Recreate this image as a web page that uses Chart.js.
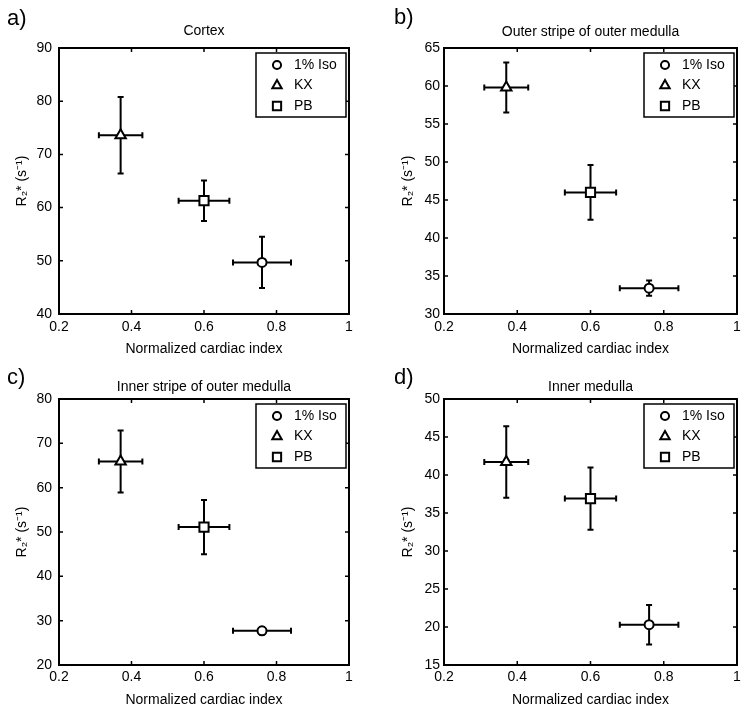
<!DOCTYPE html>
<html>
<head>
<meta charset="utf-8">
<script src="https://cdn.jsdelivr.net/npm/chart.js@4.4.1/dist/chart.umd.min.js"></script>
<style>
  body { margin: 0; background: #fff; }
  #figure { position: relative; width: 750px; height: 721px; font-family: 'Liberation Sans', Arial, sans-serif; }
  #figure canvas { position: absolute; }
  .letter { position: absolute; font-size: 22px; line-height: 22px; color: #000; }
</style>
</head>
<body>
<div id="figure">
  <canvas id="chart-a" width="375" height="360" style="left:0;top:0"></canvas>
  <canvas id="chart-b" width="375" height="360" style="left:375px;top:0"></canvas>
  <canvas id="chart-c" width="375" height="361" style="left:0;top:360px"></canvas>
  <canvas id="chart-d" width="375" height="361" style="left:375px;top:360px"></canvas>
  <div class="letter" style="left:7px;top:7px">a)</div>
  <div class="letter" style="left:394px;top:6px">b)</div>
  <div class="letter" style="left:7px;top:366px">c)</div>
  <div class="letter" style="left:394px;top:366px">d)</div>
</div>
<script>
// groups (same order in every panel)
const groups = ['1% Iso', 'KX', 'PB'];

// normalized cardiac index, mean and error
const cardiacIndex = [0.76, 0.37, 0.60];
const cardiacIndexErr = [0.08, 0.06, 0.07];

// R2* per region, mean and error
const cortexR2 = [49.7, 73.6, 61.3];
const cortexErr = [4.8, 7.2, 3.8];
const outerStripeR2 = [33.4, 59.8, 46.0];
const outerStripeErr = [1.0, 3.3, 3.6];
const innerStripeR2 = [27.7, 65.9, 51.1];
const innerStripeErr = [0.8, 7.0, 6.1];
const innerMedullaR2 = [20.3, 41.7, 36.9];
const innerMedullaErr = [2.6, 4.7, 4.1];

// tick labels
const xTicks = [0.2, 0.4, 0.6, 0.8, 1];
const cortexTicks = [40, 50, 60, 70, 80, 90];
const outerStripeTicks = [30, 35, 40, 45, 50, 55, 60, 65];
const innerStripeTicks = [20, 30, 40, 50, 60, 70, 80];
const innerMedullaTicks = [15, 20, 25, 30, 35, 40, 45, 50];

const xTitle = 'Normalized cardiac index';
const yTitle = 'R\u2082* (s\u207B\u00B9)';

// marker look
const markerStyles = ['circle', 'triangle', 'rect'];
const markerRadii = [4.5, 6, 6.5];

const FONT = "'Liberation Sans', Arial, sans-serif";
const FS = 14;
const LH = FS * 1.2;
const CAP = 3;
const TICK = 4;

Chart.defaults.font.family = FONT;
Chart.defaults.font.size = FS;
Chart.defaults.color = '#000';

const panels = [
  { id: 'chart-a', title: 'Cortex', values: cortexR2, errors: cortexErr, ticks: cortexTicks,
    box: { top: 48, bottom: 314, left: 59, right: 349, titleY: 31, xTitleY: 349, yTitleX: 22, yTickPad: 7, xTickPad: 5 } },
  { id: 'chart-b', title: 'Outer stripe of outer medulla', values: outerStripeR2, errors: outerStripeErr, ticks: outerStripeTicks,
    box: { top: 48, bottom: 314, left: 69, right: 362, titleY: 32, xTitleY: 349, yTitleX: 33, yTickPad: 4, xTickPad: 5 } },
  { id: 'chart-c', title: 'Inner stripe of outer medulla', values: innerStripeR2, errors: innerStripeErr, ticks: innerStripeTicks,
    box: { top: 39, bottom: 305, left: 59, right: 349, titleY: 27, xTitleY: 340, yTitleX: 22, yTickPad: 7, xTickPad: 4 } },
  { id: 'chart-d', title: 'Inner medulla', values: innerMedullaR2, errors: innerMedullaErr, ticks: innerMedullaTicks,
    box: { top: 39, bottom: 305, left: 69, right: 362, titleY: 27, xTitleY: 340, yTitleX: 33, yTickPad: 4, xTickPad: 4 } }
];

// x and y error bars, drawn under the markers
const errorBars = {
  id: 'errorBars',
  beforeDatasetsDraw(chart) {
    const { ctx, scales: { x, y } } = chart;
    ctx.save();
    ctx.strokeStyle = '#000';
    ctx.lineWidth = 2;
    chart.data.datasets.forEach(ds => ds.data.forEach(d => {
      const px = x.getPixelForValue(d.x), py = y.getPixelForValue(d.y);
      const x0 = x.getPixelForValue(d.x - d.xErr), x1 = x.getPixelForValue(d.x + d.xErr);
      const y0 = y.getPixelForValue(d.y - d.yErr), y1 = y.getPixelForValue(d.y + d.yErr);
      ctx.beginPath();
      ctx.moveTo(x0, py); ctx.lineTo(x1, py);
      ctx.moveTo(px, y0); ctx.lineTo(px, y1);
      ctx.moveTo(x0, py - CAP); ctx.lineTo(x0, py + CAP);
      ctx.moveTo(x1, py - CAP); ctx.lineTo(x1, py + CAP);
      ctx.moveTo(px - CAP, y0); ctx.lineTo(px + CAP, y0);
      ctx.moveTo(px - CAP, y1); ctx.lineTo(px + CAP, y1);
      ctx.stroke();
    }));
    ctx.restore();
  }
};

// box round the plot with inward ticks on all four sides
const frame = {
  id: 'frame',
  afterDraw(chart) {
    const { ctx, chartArea: a, scales: { x, y } } = chart;
    ctx.save();
    ctx.strokeStyle = '#000';
    ctx.lineWidth = 1.5;
    ctx.beginPath();
    x.ticks.forEach(t => {
      const px = x.getPixelForValue(t.value);
      ctx.moveTo(px, a.bottom); ctx.lineTo(px, a.bottom - TICK);
      ctx.moveTo(px, a.top); ctx.lineTo(px, a.top + TICK);
    });
    y.ticks.forEach(t => {
      const py = y.getPixelForValue(t.value);
      ctx.moveTo(a.left, py); ctx.lineTo(a.left + TICK, py);
      ctx.moveTo(a.right, py); ctx.lineTo(a.right - TICK, py);
    });
    ctx.stroke();
    ctx.lineWidth = 2;
    ctx.strokeRect(a.left, a.top, a.right - a.left, a.bottom - a.top);
    ctx.restore();
  }
};

// legend box in the top right corner of the plot
const boxLegend = {
  id: 'boxLegend',
  afterDraw(chart) {
    const { ctx, chartArea: a } = chart;
    const w = 90, h = 64;
    const left = a.right - 3 - w, top = a.top + 5;
    ctx.save();
    ctx.fillStyle = '#fff';
    ctx.fillRect(left, top, w, h);
    ctx.strokeStyle = '#000';
    ctx.lineWidth = 1.5;
    ctx.strokeRect(left, top, w, h);
    chart.data.datasets.forEach((ds, i) => {
      const cy = top + 12 + i * 20.5;
      ctx.fillStyle = '#fff';
      ctx.strokeStyle = '#000';
      ctx.lineWidth = 2;
      Chart.helpers.drawPoint(ctx, { pointStyle: ds.pointStyle, radius: ds.pointRadius * 0.9, rotation: 0, borderWidth: 2 }, left + 21, cy);
      ctx.fillStyle = '#000';
      ctx.font = FS + 'px ' + FONT;
      ctx.textBaseline = 'middle';
      ctx.textAlign = 'left';
      ctx.fillText(ds.label, left + 38, cy);
    });
    ctx.restore();
  }
};

function makeChart(p) {
  const canvas = document.getElementById(p.id);
  const W = canvas.width, H = canvas.height;
  const b = p.box;
  const padTop = b.titleY - LH / 2;

  const datasets = groups.map((g, i) => ({
    label: g,
    data: [{ x: cardiacIndex[i], y: p.values[i], xErr: cardiacIndexErr[i], yErr: p.errors[i] }],
    pointStyle: markerStyles[i],
    pointRadius: markerRadii[i],
    pointBackgroundColor: '#fff',
    pointBorderColor: '#000',
    pointBorderWidth: 2
  }));

  new Chart(canvas, {
    type: 'scatter',
    data: { datasets },
    options: {
      responsive: false,
      animation: false,
      events: [],
      layout: { padding: { top: padTop, left: 0, right: W - b.right, bottom: 0 } },
      plugins: {
        legend: { display: false },
        tooltip: { enabled: false },
        title: {
          display: true, text: p.title, fullSize: false, color: '#000',
          font: { size: FS, weight: 'normal' },
          padding: { top: 0, bottom: b.top - padTop - LH }
        }
      },
      scales: {
        x: {
          type: 'linear', position: 'bottom',
          min: xTicks[0], max: xTicks[xTicks.length - 1],
          afterBuildTicks: s => { s.ticks = xTicks.map(v => ({ value: v })); },
          afterFit: s => { s.height = H - b.bottom; },
          grid: { display: false, drawTicks: false },
          border: { display: false },
          ticks: { padding: b.xTickPad, autoSkip: false, maxRotation: 0, callback: v => String(v) },
          title: { display: true, text: xTitle, padding: { top: 0, bottom: H - b.xTitleY - LH / 2 } }
        },
        y: {
          type: 'linear', position: 'left',
          min: p.ticks[0], max: p.ticks[p.ticks.length - 1],
          afterBuildTicks: s => { s.ticks = p.ticks.map(v => ({ value: v })); },
          afterFit: s => { s.width = b.left; },
          grid: { display: false, drawTicks: false },
          border: { display: false },
          ticks: { padding: b.yTickPad, autoSkip: false, callback: v => String(v) },
          title: { display: true, text: yTitle, padding: { top: b.yTitleX - LH / 2, bottom: 0 } }
        }
      }
    },
    plugins: [errorBars, frame, boxLegend]
  });
}

panels.forEach(makeChart);
</script>
</body>
</html>
